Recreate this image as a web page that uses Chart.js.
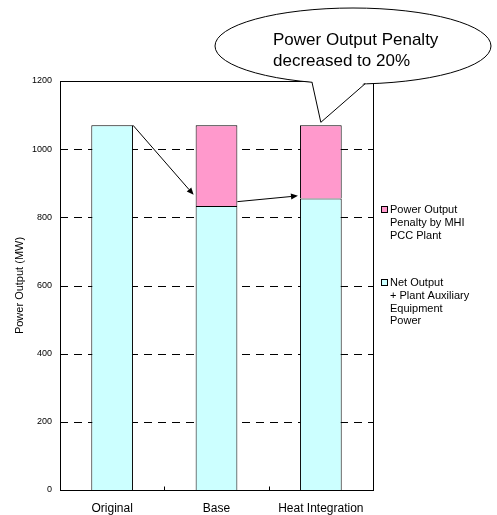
<!DOCTYPE html>
<html>
<head>
<meta charset="utf-8">
<script src="https://cdn.jsdelivr.net/npm/chart.js@4/dist/chart.umd.min.js"></script>
<style>
  html, body { margin: 0; padding: 0; background: #fff; }
  canvas { display: block; }
</style>
</head>
<body>
<canvas id="c" width="497" height="515"></canvas>
<script>
// Categories and stacked series (MW)
const categories = ['Original', 'Base', 'Heat Integration'];
const netOutput = [1070, 833, 855];
const penalty = [0, 237, 215];

// Value axis
const yMin = 0, yMax = 1200, yStep = 200;
const axisTitle = 'Power Output (MW)';

// Legend entries (multi-line), drawn beside the plot
const penaltyLabel = ['Power Output', 'Penalty by MHI', 'PCC Plant'];
const netLabel = ['Net Output', '+ Plant Auxiliary', 'Equipment', 'Power'];

// Callout text
const calloutLines = ['Power Output Penalty', 'decreased to 20%'];

// Connector arrows: [category index, bar side, value]
const arrows = [
  { from: [0, 'right', 1070], to: [1, 'left', 866] },
  { from: [1, 'right', 846], to: [2, 'left', 863] }
];

const CYAN = '#CCFFFF';
const PINK = '#FF99CC';
const FONT = '"Liberation Sans", Arial, sans-serif';

function barEdge(chart, idx, side) {
  const meta = chart.getDatasetMeta(0);
  const bar = meta.data[idx];
  const half = bar.width / 2;
  return side === 'left' ? bar.x - half : side === 'right' ? bar.x + half : bar.x;
}

function drawArrow(ctx, x1, y1, x2, y2) {
  ctx.save();
  ctx.strokeStyle = '#000';
  ctx.fillStyle = '#000';
  ctx.lineWidth = 1;
  const ang = Math.atan2(y2 - y1, x2 - x1);
  const len = 7, wid = 3;
  const bx = x2 - len * Math.cos(ang), by = y2 - len * Math.sin(ang);
  ctx.beginPath();
  ctx.moveTo(x1, y1);
  ctx.lineTo(bx, by);
  ctx.stroke();
  ctx.beginPath();
  ctx.moveTo(x2, y2);
  ctx.lineTo(bx + wid * Math.sin(ang), by - wid * Math.cos(ang));
  ctx.lineTo(bx - wid * Math.sin(ang), by + wid * Math.cos(ang));
  ctx.closePath();
  ctx.fill();
  ctx.restore();
}

const decorations = {
  id: 'decorations',
  beforeDatasetsDraw(chart) {
    const { ctx, chartArea: a, scales: { y } } = chart;
    ctx.save();
    ctx.strokeStyle = '#000';
    ctx.lineWidth = 1;
    ctx.setLineDash([8, 6]);
    for (let v = yMin + yStep; v < yMax; v += yStep) {
      const py = Math.round(y.getPixelForValue(v)) + 0.5;
      ctx.beginPath();
      ctx.moveTo(a.left, py);
      ctx.lineTo(a.right, py);
      ctx.stroke();
    }
    ctx.restore();
  },
  afterDatasetsDraw(chart) {
    const { ctx, chartArea: a, scales: { x, y } } = chart;
    ctx.save();
    ctx.strokeStyle = '#000';
    ctx.lineWidth = 1;
    // plot frame
    const l = Math.round(a.left) + 0.5, r = Math.round(a.right) + 0.5;
    const t = Math.round(a.top) + 0.5, b = Math.round(a.bottom) + 0.5;
    ctx.strokeRect(l, t, r - l, b - t);
    // small category separators on the base line
    for (let i = 1; i < categories.length; i++) {
      const px = Math.round((x.getPixelForValue(i - 1) + x.getPixelForValue(i)) / 2) + 0.5;
      ctx.beginPath();
      ctx.moveTo(px, b);
      ctx.lineTo(px, b - 4);
      ctx.stroke();
    }
    ctx.restore();
    // connector arrows
    arrows.forEach(ar => {
      const x1 = barEdge(chart, ar.from[0], ar.from[1]);
      const y1 = y.getPixelForValue(ar.from[2]);
      const x2 = barEdge(chart, ar.to[0], ar.to[1]) - 2;
      const y2 = y.getPixelForValue(ar.to[2]);
      drawArrow(ctx, x1, y1, x2, y2);
    });
  },
  afterDraw(chart) {
    const { ctx, chartArea: a, scales: { x, y } } = chart;
    ctx.save();
    // axis title
    ctx.fillStyle = '#000';
    ctx.font = '11px ' + FONT;
    ctx.textAlign = 'center';
    ctx.textBaseline = 'middle';
    ctx.translate(20, (a.top + a.bottom) / 2);
    ctx.rotate(-Math.PI / 2);
    ctx.fillText(axisTitle, 0, 0);
    ctx.restore();

    // legend
    ctx.save();
    ctx.font = '11px ' + FONT;
    ctx.textAlign = 'left';
    ctx.textBaseline = 'middle';
    const legendItems = [
      { color: PINK, lines: penaltyLabel, y0: 210 },
      { color: CYAN, lines: netLabel, y0: 283 }
    ];
    legendItems.forEach(item => {
      ctx.fillStyle = item.color;
      ctx.fillRect(381.5, item.y0 - 3.5, 6, 6);
      ctx.strokeStyle = '#000';
      ctx.lineWidth = 1;
      ctx.strokeRect(381.5, item.y0 - 3.5, 6, 6);
      ctx.fillStyle = '#000';
      item.lines.forEach((ln, k) => ctx.fillText(ln, 390, item.y0 + k * 12.8));
    });
    ctx.restore();

    // callout balloon pointing at the heat integration bar
    const cx = 353, cy = 46, rx = 138, ry = 38;
    const tipX = x.getPixelForValue(2);
    const tipY = y.getPixelForValue(netOutput[2] + penalty[2]) - 3;
    const b1x = 312, b2x = 365;
    const b1y = cy + ry * Math.sqrt(1 - Math.pow((b1x - cx) / rx, 2));
    const b2y = cy + ry * Math.sqrt(1 - Math.pow((b2x - cx) / rx, 2));
    ctx.save();
    ctx.lineWidth = 1;
    ctx.strokeStyle = '#000';
    ctx.fillStyle = '#fff';
    ctx.beginPath();
    ctx.ellipse(cx, cy, rx, ry, 0, 0, Math.PI * 2);
    ctx.fill();
    ctx.stroke();
    ctx.beginPath();
    ctx.moveTo(b1x, b1y - 1.5);
    ctx.lineTo(tipX, tipY);
    ctx.lineTo(b2x, b2y - 1.5);
    ctx.closePath();
    ctx.fill();
    ctx.beginPath();
    ctx.moveTo(b1x, b1y);
    ctx.lineTo(tipX, tipY);
    ctx.lineTo(b2x, b2y);
    ctx.stroke();
    ctx.fillStyle = '#000';
    ctx.font = '17px ' + FONT;
    ctx.textAlign = 'left';
    ctx.textBaseline = 'middle';
    ctx.fillText(calloutLines[0], 273, 40);
    ctx.fillText(calloutLines[1], 273, 61);
    ctx.restore();
  }
};

new Chart(document.getElementById('c'), {
  type: 'bar',
  data: {
    labels: categories,
    datasets: [
      {
        label: 'Net Output + Plant Auxiliary Equipment Power',
        data: netOutput,
        backgroundColor: CYAN,
        borderColor: '#000',
        borderWidth: 1
      },
      {
        label: 'Power Output Penalty by MHI PCC Plant',
        data: penalty,
        backgroundColor: PINK,
        borderColor: '#000',
        borderWidth: 1
      }
    ]
  },
  options: {
    responsive: false,
    animation: false,
    devicePixelRatio: 1,
    layout: { padding: { left: 0, top: 81, right: 124, bottom: 0 } },
    datasets: { bar: { categoryPercentage: 1, barPercentage: 0.4 } },
    plugins: { legend: { display: false }, tooltip: { enabled: false } },
    scales: {
      x: {
        stacked: true,
        grid: { display: false, drawTicks: false },
        border: { display: false },
        ticks: { color: '#000', font: { family: FONT, size: 12 }, padding: 11, maxRotation: 0 },
        afterFit(scale) { scale.height = 25; }
      },
      y: {
        stacked: true,
        min: yMin,
        max: yMax,
        grid: { display: false, drawTicks: false },
        border: { display: false },
        ticks: {
          stepSize: yStep,
          color: '#000',
          font: { family: FONT, size: 9 },
          padding: 8,
          callback: v => String(v)
        },
        afterFit(scale) { scale.width = 60; }
      }
    }
  },
  plugins: [decorations]
});
</script>
</body>
</html>
